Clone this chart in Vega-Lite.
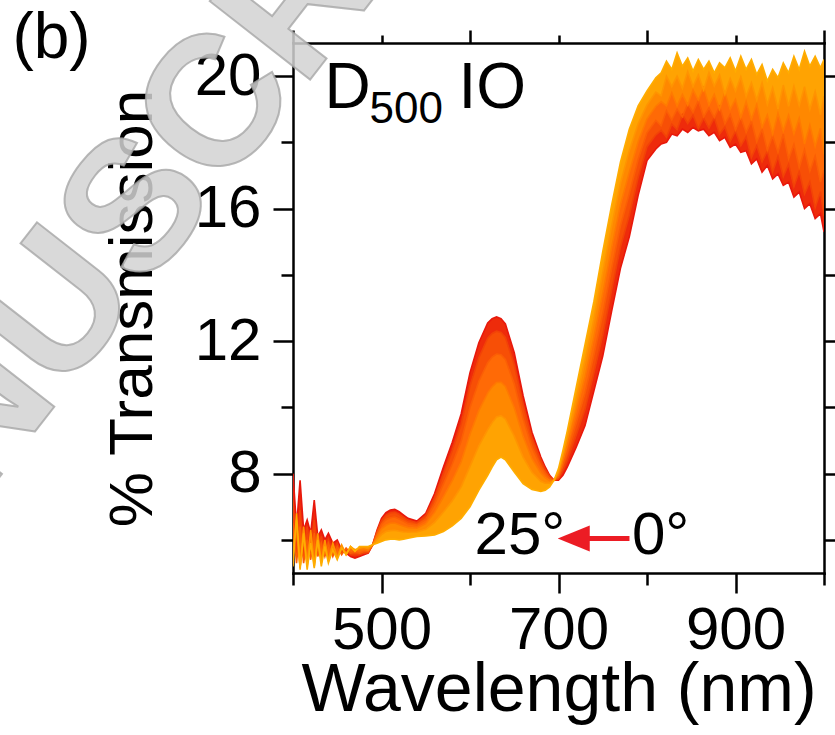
{
"$schema": "https://vega.github.io/schema/vega-lite/v6.json",
"width": 531, "height": 530,
"autosize": {"type": "none"},
"padding": {"left": 293, "top": 43, "right": 11, "bottom": 162},
"background": "white",
"datasets": {
"spectra": [
{"a":0,"w":400,"t":8.0},{"a":0,"w":404,"t":6.4},{"a":0,"w":408,"t":7.8},{"a":0,"w":412,"t":6.3},{"a":0,"w":416,"t":6.6},{"a":0,"w":420,"t":6.2},{"a":0,"w":424,"t":7.2},{"a":0,"w":428,"t":6.1},{"a":0,"w":432,"t":6.3},{"a":0,"w":436,"t":6.0},{"a":0,"w":440,"t":6.2},{"a":0,"w":445,"t":5.9},{"a":0,"w":450,"t":6.0},{"a":0,"w":455,"t":5.7},{"a":0,"w":460,"t":5.6},{"a":0,"w":465,"t":5.5},{"a":0,"w":470,"t":5.45},{"a":0,"w":475,"t":5.5},{"a":0,"w":480,"t":5.55},
{"a":0,"w":485,"t":5.6},{"a":0,"w":490,"t":5.85},{"a":0,"w":495,"t":6.3},{"a":0,"w":500,"t":6.65},{"a":0,"w":505,"t":6.82},{"a":0,"w":510,"t":6.9},{"a":0,"w":515,"t":6.92},{"a":0,"w":520,"t":6.85},{"a":0,"w":525,"t":6.75},{"a":0,"w":530,"t":6.65},{"a":0,"w":540,"t":6.57},{"a":0,"w":550,"t":6.8},{"a":0,"w":560,"t":7.4},{"a":0,"w":570,"t":8.2},{"a":0,"w":580,"t":8.95},{"a":0,"w":590,"t":9.8},{"a":0,"w":600,"t":11.05},{"a":0,"w":610,"t":11.95},{"a":0,"w":620,"t":12.55},{"a":0,"w":625,"t":12.68},{"a":0,"w":630,"t":12.73},{"a":0,"w":635,"t":12.68},{"a":0,"w":640,"t":12.52},{"a":0,"w":650,"t":11.65},{"a":0,"w":660,"t":10.35},{"a":0,"w":670,"t":9.25},{"a":0,"w":680,"t":8.5},{"a":0,"w":685,"t":8.2},{"a":0,"w":690,"t":7.95},{"a":0,"w":695,"t":7.8},{"a":0,"w":700,"t":7.8},
{"a":0,"w":705,"t":7.95},{"a":0,"w":710,"t":8.2},{"a":0,"w":720,"t":8.8},{"a":0,"w":730,"t":9.45},{"a":0,"w":740,"t":10.5},{"a":0,"w":750,"t":11.55},{"a":0,"w":760,"t":12.9},{"a":0,"w":770,"t":14.2},{"a":0,"w":780,"t":15.15},{"a":0,"w":790,"t":16.4},{"a":0,"w":800,"t":17.45},{"a":0,"w":810,"t":17.8},
{"a":0,"w":816,"t":17.95},{"a":0,"w":822,"t":18.0},{"a":0,"w":828,"t":18.25},{"a":0,"w":834,"t":18.2},{"a":0,"w":840,"t":18.4},{"a":0,"w":846,"t":18.3},{"a":0,"w":852,"t":18.45},{"a":0,"w":858,"t":18.35},{"a":0,"w":864,"t":18.4},{"a":0,"w":870,"t":18.2},{"a":0,"w":876,"t":18.3},{"a":0,"w":882,"t":18.05},{"a":0,"w":888,"t":18.15},{"a":0,"w":894,"t":17.85},{"a":0,"w":900,"t":17.95},{"a":0,"w":906,"t":17.7},{"a":0,"w":912,"t":17.75},{"a":0,"w":918,"t":17.35},{"a":0,"w":924,"t":17.5},{"a":0,"w":930,"t":17.1},{"a":0,"w":936,"t":17.3},{"a":0,"w":942,"t":16.9},{"a":0,"w":948,"t":17.05},{"a":0,"w":954,"t":16.7},{"a":0,"w":960,"t":16.8},{"a":0,"w":966,"t":16.35},{"a":0,"w":972,"t":16.5},{"a":0,"w":978,"t":16.0},{"a":0,"w":984,"t":16.15},{"a":0,"w":990,"t":15.7},{"a":0,"w":996,"t":15.85},{"a":0,"w":1000,"t":15.3},

{"a":5,"w":400,"t":7.2},{"a":5,"w":404,"t":5.6},{"a":5,"w":408,"t":6.9},{"a":5,"w":412,"t":5.5},{"a":5,"w":416,"t":6.4},{"a":5,"w":420,"t":5.6},{"a":5,"w":424,"t":6.6},{"a":5,"w":428,"t":5.7},{"a":5,"w":432,"t":6.1},{"a":5,"w":436,"t":5.6},{"a":5,"w":440,"t":6.0},{"a":5,"w":445,"t":5.6},{"a":5,"w":450,"t":5.9},{"a":5,"w":455,"t":5.6},{"a":5,"w":460,"t":5.7},{"a":5,"w":465,"t":5.55},{"a":5,"w":470,"t":5.55},{"a":5,"w":475,"t":5.55},{"a":5,"w":480,"t":5.6},
{"a":5,"w":485,"t":5.62},{"a":5,"w":490,"t":5.85},{"a":5,"w":495,"t":6.26},{"a":5,"w":500,"t":6.58},{"a":5,"w":505,"t":6.74},{"a":5,"w":510,"t":6.81},{"a":5,"w":515,"t":6.83},{"a":5,"w":520,"t":6.77},{"a":5,"w":525,"t":6.68},{"a":5,"w":530,"t":6.59},{"a":5,"w":540,"t":6.52},{"a":5,"w":550,"t":6.73},{"a":5,"w":560,"t":7.28},{"a":5,"w":570,"t":8.0},{"a":5,"w":580,"t":8.7},{"a":5,"w":590,"t":9.49},{"a":5,"w":600,"t":10.65},{"a":5,"w":610,"t":11.5},{"a":5,"w":620,"t":12.09},{"a":5,"w":625,"t":12.23},{"a":5,"w":630,"t":12.3},{"a":5,"w":635,"t":12.26},{"a":5,"w":640,"t":12.11},{"a":5,"w":650,"t":11.29},{"a":5,"w":660,"t":10.09},{"a":5,"w":670,"t":9.08},{"a":5,"w":680,"t":8.4},{"a":5,"w":685,"t":8.13},{"a":5,"w":690,"t":7.92},{"a":5,"w":695,"t":7.8},{"a":5,"w":700,"t":7.84},
{"a":5,"w":705,"t":8.1},{"a":5,"w":710,"t":8.42},{"a":5,"w":720,"t":9.16},{"a":5,"w":730,"t":9.94},{"a":5,"w":740,"t":11.04},{"a":5,"w":750,"t":12.18},{"a":5,"w":760,"t":13.54},{"a":5,"w":770,"t":14.84},{"a":5,"w":780,"t":15.8},{"a":5,"w":790,"t":16.94},{"a":5,"w":800,"t":17.87},{"a":5,"w":810,"t":18.23},
{"a":5,"w":816,"t":18.36},{"a":5,"w":822,"t":18.16},{"a":5,"w":828,"t":18.55},{"a":5,"w":834,"t":18.39},{"a":5,"w":840,"t":18.83},{"a":5,"w":846,"t":18.57},{"a":5,"w":852,"t":18.82},{"a":5,"w":858,"t":18.42},{"a":5,"w":864,"t":18.73},{"a":5,"w":870,"t":18.43},{"a":5,"w":876,"t":18.74},{"a":5,"w":882,"t":18.25},{"a":5,"w":888,"t":18.46},{"a":5,"w":894,"t":18.03},{"a":5,"w":900,"t":18.34},{"a":5,"w":906,"t":17.9},{"a":5,"w":912,"t":18.17},{"a":5,"w":918,"t":17.54},{"a":5,"w":924,"t":17.9},{"a":5,"w":930,"t":17.41},{"a":5,"w":936,"t":17.74},{"a":5,"w":942,"t":17.11},{"a":5,"w":948,"t":17.58},{"a":5,"w":954,"t":16.97},{"a":5,"w":960,"t":17.34},{"a":5,"w":966,"t":16.66},{"a":5,"w":972,"t":17.12},{"a":5,"w":978,"t":16.44},{"a":5,"w":984,"t":16.81},{"a":5,"w":990,"t":16.03},{"a":5,"w":996,"t":16.51},{"a":5,"w":1000,"t":15.78},

{"a":10,"w":400,"t":6.5},{"a":10,"w":404,"t":5.3},{"a":10,"w":408,"t":6.4},{"a":10,"w":412,"t":5.3},{"a":10,"w":416,"t":6.0},{"a":10,"w":420,"t":5.4},{"a":10,"w":424,"t":6.2},{"a":10,"w":428,"t":5.5},{"a":10,"w":432,"t":5.9},{"a":10,"w":436,"t":5.5},{"a":10,"w":440,"t":5.9},{"a":10,"w":445,"t":5.5},{"a":10,"w":450,"t":5.8},{"a":10,"w":455,"t":5.55},{"a":10,"w":460,"t":5.75},{"a":10,"w":465,"t":5.6},{"a":10,"w":470,"t":5.65},{"a":10,"w":475,"t":5.6},{"a":10,"w":480,"t":5.65},
{"a":10,"w":485,"t":5.65},{"a":10,"w":490,"t":5.85},{"a":10,"w":495,"t":6.2},{"a":10,"w":500,"t":6.47},{"a":10,"w":505,"t":6.61},{"a":10,"w":510,"t":6.67},{"a":10,"w":515,"t":6.69},{"a":10,"w":520,"t":6.63},{"a":10,"w":525,"t":6.56},{"a":10,"w":530,"t":6.49},{"a":10,"w":540,"t":6.45},{"a":10,"w":550,"t":6.62},{"a":10,"w":560,"t":7.08},{"a":10,"w":570,"t":7.69},{"a":10,"w":580,"t":8.29},{"a":10,"w":590,"t":8.98},{"a":10,"w":600,"t":10.0},{"a":10,"w":610,"t":10.79},{"a":10,"w":620,"t":11.35},{"a":10,"w":625,"t":11.52},{"a":10,"w":630,"t":11.61},{"a":10,"w":635,"t":11.59},{"a":10,"w":640,"t":11.45},{"a":10,"w":650,"t":10.71},{"a":10,"w":660,"t":9.66},{"a":10,"w":670,"t":8.8},{"a":10,"w":680,"t":8.23},{"a":10,"w":685,"t":8.02},{"a":10,"w":690,"t":7.86},{"a":10,"w":695,"t":7.8},{"a":10,"w":700,"t":7.89},
{"a":10,"w":705,"t":8.25},{"a":10,"w":710,"t":8.64},{"a":10,"w":720,"t":9.52},{"a":10,"w":730,"t":10.43},{"a":10,"w":740,"t":11.58},{"a":10,"w":750,"t":12.81},{"a":10,"w":760,"t":14.18},{"a":10,"w":770,"t":15.48},{"a":10,"w":780,"t":16.45},{"a":10,"w":790,"t":17.48},{"a":10,"w":800,"t":18.29},{"a":10,"w":810,"t":18.66},
{"a":10,"w":816,"t":18.5},{"a":10,"w":822,"t":18.96},{"a":10,"w":828,"t":18.68},{"a":10,"w":834,"t":19.0},{"a":10,"w":840,"t":18.77},{"a":10,"w":846,"t":19.16},{"a":10,"w":852,"t":18.91},{"a":10,"w":858,"t":19.26},{"a":10,"w":864,"t":18.77},{"a":10,"w":870,"t":19.04},{"a":10,"w":876,"t":18.75},{"a":10,"w":882,"t":19.08},{"a":10,"w":888,"t":18.56},{"a":10,"w":894,"t":18.84},{"a":10,"w":900,"t":18.37},{"a":10,"w":906,"t":18.75},{"a":10,"w":912,"t":18.3},{"a":10,"w":918,"t":18.64},{"a":10,"w":924,"t":18.02},{"a":10,"w":930,"t":18.4},{"a":10,"w":936,"t":17.76},{"a":10,"w":942,"t":18.2},{"a":10,"w":948,"t":17.7},{"a":10,"w":954,"t":18.25},{"a":10,"w":960,"t":17.5},{"a":10,"w":966,"t":17.94},{"a":10,"w":972,"t":17.24},{"a":10,"w":978,"t":17.78},{"a":10,"w":984,"t":17.13},{"a":10,"w":990,"t":17.59},{"a":10,"w":996,"t":16.8},{"a":10,"w":1000,"t":17.16},

{"a":15,"w":400,"t":5.9},{"a":15,"w":404,"t":6.3},{"a":15,"w":408,"t":5.2},{"a":15,"w":412,"t":6.0},{"a":15,"w":416,"t":5.3},{"a":15,"w":420,"t":6.1},{"a":15,"w":424,"t":5.3},{"a":15,"w":428,"t":5.9},{"a":15,"w":432,"t":5.4},{"a":15,"w":436,"t":5.9},{"a":15,"w":440,"t":5.4},{"a":15,"w":445,"t":5.85},{"a":15,"w":450,"t":5.5},{"a":15,"w":455,"t":5.8},{"a":15,"w":460,"t":5.6},{"a":15,"w":465,"t":5.75},{"a":15,"w":470,"t":5.7},{"a":15,"w":475,"t":5.7},{"a":15,"w":480,"t":5.72},
{"a":15,"w":485,"t":5.69},{"a":15,"w":490,"t":5.85},{"a":15,"w":495,"t":6.12},{"a":15,"w":500,"t":6.33},{"a":15,"w":505,"t":6.44},{"a":15,"w":510,"t":6.5},{"a":15,"w":515,"t":6.51},{"a":15,"w":520,"t":6.46},{"a":15,"w":525,"t":6.41},{"a":15,"w":530,"t":6.37},{"a":15,"w":540,"t":6.35},{"a":15,"w":550,"t":6.49},{"a":15,"w":560,"t":6.83},{"a":15,"w":570,"t":7.3},{"a":15,"w":580,"t":7.79},{"a":15,"w":590,"t":8.35},{"a":15,"w":600,"t":9.19},{"a":15,"w":610,"t":9.9},{"a":15,"w":620,"t":10.43},{"a":15,"w":625,"t":10.62},{"a":15,"w":630,"t":10.75},{"a":15,"w":635,"t":10.76},{"a":15,"w":640,"t":10.63},{"a":15,"w":650,"t":9.99},{"a":15,"w":660,"t":9.13},{"a":15,"w":670,"t":8.45},{"a":15,"w":680,"t":8.02},{"a":15,"w":685,"t":7.88},{"a":15,"w":690,"t":7.79},{"a":15,"w":695,"t":7.8},{"a":15,"w":700,"t":7.96},
{"a":15,"w":705,"t":8.4},{"a":15,"w":710,"t":8.86},{"a":15,"w":720,"t":9.88},{"a":15,"w":730,"t":10.92},{"a":15,"w":740,"t":12.12},{"a":15,"w":750,"t":13.44},{"a":15,"w":760,"t":14.82},{"a":15,"w":770,"t":16.12},{"a":15,"w":780,"t":17.1},{"a":15,"w":790,"t":18.02},{"a":15,"w":800,"t":18.71},{"a":15,"w":810,"t":19.09},
{"a":15,"w":816,"t":19.23},{"a":15,"w":822,"t":19.1},{"a":15,"w":828,"t":19.5},{"a":15,"w":834,"t":19.1},{"a":15,"w":840,"t":19.45},{"a":15,"w":846,"t":19.13},{"a":15,"w":852,"t":19.58},{"a":15,"w":858,"t":19.28},{"a":15,"w":864,"t":19.65},{"a":15,"w":870,"t":19.13},{"a":15,"w":876,"t":19.45},{"a":15,"w":882,"t":19.0},{"a":15,"w":888,"t":19.5},{"a":15,"w":894,"t":19.0},{"a":15,"w":900,"t":19.3},{"a":15,"w":906,"t":18.75},{"a":15,"w":912,"t":19.23},{"a":15,"w":918,"t":18.7},{"a":15,"w":924,"t":19.15},{"a":15,"w":930,"t":18.45},{"a":15,"w":936,"t":18.83},{"a":15,"w":942,"t":18.25},{"a":15,"w":948,"t":18.88},{"a":15,"w":954,"t":18.35},{"a":15,"w":960,"t":18.83},{"a":15,"w":966,"t":18.25},{"a":15,"w":972,"t":18.73},{"a":15,"w":978,"t":17.95},{"a":15,"w":984,"t":18.53},{"a":15,"w":990,"t":17.88},{"a":15,"w":996,"t":18.43},{"a":15,"w":1000,"t":17.63},

{"a":20,"w":400,"t":5.5},{"a":20,"w":404,"t":6.6},{"a":20,"w":408,"t":5.15},{"a":20,"w":412,"t":6.4},{"a":20,"w":416,"t":5.2},{"a":20,"w":420,"t":6.3},{"a":20,"w":424,"t":5.2},{"a":20,"w":428,"t":6.2},{"a":20,"w":432,"t":5.3},{"a":20,"w":436,"t":6.0},{"a":20,"w":440,"t":5.35},{"a":20,"w":445,"t":5.9},{"a":20,"w":450,"t":5.45},{"a":20,"w":455,"t":5.85},{"a":20,"w":460,"t":5.55},{"a":20,"w":465,"t":5.8},{"a":20,"w":470,"t":5.7},{"a":20,"w":475,"t":5.75},{"a":20,"w":480,"t":5.78},
{"a":20,"w":485,"t":5.74},{"a":20,"w":490,"t":5.85},{"a":20,"w":495,"t":6.02},{"a":20,"w":500,"t":6.16},{"a":20,"w":505,"t":6.25},{"a":20,"w":510,"t":6.28},{"a":20,"w":515,"t":6.29},{"a":20,"w":520,"t":6.26},{"a":20,"w":525,"t":6.24},{"a":20,"w":530,"t":6.23},{"a":20,"w":540,"t":6.24},{"a":20,"w":550,"t":6.32},{"a":20,"w":560,"t":6.53},{"a":20,"w":570,"t":6.84},{"a":20,"w":580,"t":7.18},{"a":20,"w":590,"t":7.6},{"a":20,"w":600,"t":8.22},{"a":20,"w":610,"t":8.84},{"a":20,"w":620,"t":9.33},{"a":20,"w":625,"t":9.54},{"a":20,"w":630,"t":9.71},{"a":20,"w":635,"t":9.75},{"a":20,"w":640,"t":9.65},{"a":20,"w":650,"t":9.13},{"a":20,"w":660,"t":8.5},{"a":20,"w":670,"t":8.04},{"a":20,"w":680,"t":7.77},{"a":20,"w":685,"t":7.71},{"a":20,"w":690,"t":7.71},{"a":20,"w":695,"t":7.8},{"a":20,"w":700,"t":8.05},
{"a":20,"w":705,"t":8.55},{"a":20,"w":710,"t":9.08},{"a":20,"w":720,"t":10.24},{"a":20,"w":730,"t":11.41},{"a":20,"w":740,"t":12.66},{"a":20,"w":750,"t":14.07},{"a":20,"w":760,"t":15.46},{"a":20,"w":770,"t":16.76},{"a":20,"w":780,"t":17.75},{"a":20,"w":790,"t":18.56},{"a":20,"w":800,"t":19.13},{"a":20,"w":810,"t":19.52},
{"a":20,"w":816,"t":19.41},{"a":20,"w":822,"t":20.0},{"a":20,"w":828,"t":19.68},{"a":20,"w":834,"t":20.0},{"a":20,"w":840,"t":19.63},{"a":20,"w":846,"t":20.14},{"a":20,"w":852,"t":19.69},{"a":20,"w":858,"t":20.04},{"a":20,"w":864,"t":19.58},{"a":20,"w":870,"t":20.11},{"a":20,"w":876,"t":19.7},{"a":20,"w":882,"t":20.03},{"a":20,"w":888,"t":19.45},{"a":20,"w":894,"t":19.93},{"a":20,"w":900,"t":19.55},{"a":20,"w":906,"t":19.98},{"a":20,"w":912,"t":19.39},{"a":20,"w":918,"t":19.8},{"a":20,"w":924,"t":19.28},{"a":20,"w":930,"t":19.8},{"a":20,"w":936,"t":19.14},{"a":20,"w":942,"t":19.65},{"a":20,"w":948,"t":19.01},{"a":20,"w":954,"t":19.73},{"a":20,"w":960,"t":19.09},{"a":20,"w":966,"t":19.7},{"a":20,"w":972,"t":19.11},{"a":20,"w":978,"t":19.68},{"a":20,"w":984,"t":18.99},{"a":20,"w":990,"t":19.54},{"a":20,"w":996,"t":18.84},{"a":20,"w":1000,"t":19.39},

{"a":25,"w":400,"t":5.2},{"a":25,"w":404,"t":6.8},{"a":25,"w":408,"t":5.1},{"a":25,"w":412,"t":6.2},{"a":25,"w":416,"t":5.1},{"a":25,"w":420,"t":5.9},{"a":25,"w":424,"t":5.15},{"a":25,"w":428,"t":6.0},{"a":25,"w":432,"t":5.2},{"a":25,"w":436,"t":5.8},{"a":25,"w":440,"t":5.3},{"a":25,"w":445,"t":5.7},{"a":25,"w":450,"t":5.4},{"a":25,"w":455,"t":5.75},{"a":25,"w":460,"t":5.55},{"a":25,"w":465,"t":5.8},{"a":25,"w":470,"t":5.65},{"a":25,"w":475,"t":5.8},{"a":25,"w":480,"t":5.8},
{"a":25,"w":485,"t":5.8},{"a":25,"w":490,"t":5.85},{"a":25,"w":495,"t":5.9},{"a":25,"w":500,"t":5.95},{"a":25,"w":505,"t":6.0},{"a":25,"w":510,"t":6.02},{"a":25,"w":515,"t":6.02},{"a":25,"w":520,"t":6.0},{"a":25,"w":525,"t":6.02},{"a":25,"w":530,"t":6.05},{"a":25,"w":540,"t":6.1},{"a":25,"w":550,"t":6.12},{"a":25,"w":560,"t":6.15},{"a":25,"w":570,"t":6.25},{"a":25,"w":580,"t":6.42},{"a":25,"w":590,"t":6.65},{"a":25,"w":600,"t":7.0},{"a":25,"w":610,"t":7.5},{"a":25,"w":620,"t":7.95},{"a":25,"w":625,"t":8.2},{"a":25,"w":630,"t":8.42},{"a":25,"w":635,"t":8.5},{"a":25,"w":640,"t":8.42},{"a":25,"w":650,"t":8.05},{"a":25,"w":660,"t":7.7},{"a":25,"w":670,"t":7.52},{"a":25,"w":680,"t":7.46},{"a":25,"w":685,"t":7.5},{"a":25,"w":690,"t":7.6},{"a":25,"w":695,"t":7.8},{"a":25,"w":700,"t":8.15},
{"a":25,"w":705,"t":8.7},{"a":25,"w":710,"t":9.3},{"a":25,"w":720,"t":10.6},{"a":25,"w":730,"t":11.9},{"a":25,"w":740,"t":13.2},{"a":25,"w":750,"t":14.7},{"a":25,"w":760,"t":16.1},{"a":25,"w":770,"t":17.4},{"a":25,"w":780,"t":18.4},{"a":25,"w":790,"t":19.1},{"a":25,"w":800,"t":19.55},{"a":25,"w":810,"t":19.95},
{"a":25,"w":816,"t":20.1},{"a":25,"w":822,"t":20.45},{"a":25,"w":828,"t":20.2},{"a":25,"w":834,"t":20.7},{"a":25,"w":840,"t":20.3},{"a":25,"w":846,"t":20.55},{"a":25,"w":852,"t":20.15},{"a":25,"w":858,"t":20.5},{"a":25,"w":864,"t":20.2},{"a":25,"w":870,"t":20.45},{"a":25,"w":876,"t":20.1},{"a":25,"w":882,"t":20.4},{"a":25,"w":888,"t":20.25},{"a":25,"w":894,"t":20.55},{"a":25,"w":900,"t":20.15},{"a":25,"w":906,"t":20.6},{"a":25,"w":912,"t":20.2},{"a":25,"w":918,"t":20.5},{"a":25,"w":924,"t":20.05},{"a":25,"w":930,"t":20.35},{"a":25,"w":936,"t":19.85},{"a":25,"w":942,"t":20.2},{"a":25,"w":948,"t":19.95},{"a":25,"w":954,"t":20.4},{"a":25,"w":960,"t":20.1},{"a":25,"w":966,"t":20.6},{"a":25,"w":972,"t":20.2},{"a":25,"w":978,"t":20.75},{"a":25,"w":984,"t":20.3},{"a":25,"w":990,"t":20.6},{"a":25,"w":996,"t":20.25},{"a":25,"w":1000,"t":20.5}
]
},
"layer": [
{
"data": {"values": [{"x": 225, "y": 16.0, "s": "MANUSCRIPT"}]},
"mark": {"type": "text", "angle": -52, "fontSize": 185, "fontWeight": "bold", "font": "Liberation Sans", "align": "center", "baseline": "middle", "fill": "#d2d2d2", "fillOpacity": 0.85, "stroke": "#a6a6a6", "strokeOpacity": 0.8, "strokeWidth": 2},
"encoding": {
"x": {"field": "x", "type": "quantitative", "scale": {"domain": [400, 1000], "nice": false, "zero": false}, "axis": null},
"y": {"field": "y", "type": "quantitative", "scale": {"domain": [5, 21], "nice": false, "zero": false}, "axis": null},
"text": {"field": "s"}
}
},
{
"data": {"name": "spectra"},
"transform": [
{"window": [{"op": "lag", "field": "t", "as": "t0"}], "groupby": ["w"], "sort": [{"field": "a", "order": "ascending"}]},
{"filter": "datum.t0 != null"}
],
"mark": {"type": "area", "clip": true},
"encoding": {
"x": {"field": "w", "type": "quantitative", "scale": {"domain": [400, 1000], "nice": false, "zero": false},
"axis": {"orient": "bottom", "values": [400, 500, 600, 700, 800, 900, 1000], "format": "d",
"tickSize": {"condition": {"test": "datum.value % 200 == 100", "value": 20}, "value": 12},
"labelExpr": "datum.value % 200 == 100 ? datum.label : ''",
"labelFontSize": 60, "labelPadding": 8, "labelOverlap": false, "labelFlush": false,
"title": "Wavelength (nm)", "titleFontSize": 68, "titlePadding": -4}},
"y": {"field": "t", "type": "quantitative", "scale": {"domain": [5, 21], "nice": false, "zero": false},
"axis": {"orient": "left", "values": [6, 8, 10, 12, 14, 16, 18, 20], "format": "d",
"tickSize": {"condition": {"test": "datum.value % 4 == 0", "value": 20}, "value": 12},
"labelExpr": "datum.value % 4 == 0 ? datum.label : ''",
"labelFontSize": 60, "labelPadding": 12, "labelOverlap": false, "labelFlush": false,
"title": "% Transmission", "titleFontSize": 62, "titlePadding": 30}},
"y2": {"field": "t0"},
"color": {"field": "a", "type": "quantitative", "scale": {"domain": [5, 15, 25], "range": ["#ee2b0b", "#ff6a06", "#ffa302"]}, "legend": null},
"detail": {"field": "a"}
}
},
{
"data": {"name": "spectra"},
"mark": {"type": "line", "clip": true, "strokeWidth": 1.6},
"encoding": {
"x": {"field": "w", "type": "quantitative", "scale": {"domain": [400, 1000], "nice": false, "zero": false},
"axis": {"orient": "top", "values": [400, 500, 600, 700, 800, 900, 1000],
"tickSize": {"condition": {"test": "datum.value % 200 == 0", "value": 13}, "value": 8},
"labels": false, "title": null}},
"y": {"field": "t", "type": "quantitative", "scale": {"domain": [5, 21], "nice": false, "zero": false},
"axis": {"orient": "right", "values": [6, 8, 10, 12, 14, 16, 18, 20], "tickSize": 12, "labels": false, "title": null}},
"color": {"field": "a", "type": "quantitative", "scale": {"domain": [0, 12.5, 25], "range": ["#e8180c", "#ff6a06", "#ffad00"]}, "legend": null},
"detail": {"field": "a"}
}
},
{
"data": {"values": [{"x": 435.6, "y": 19.05, "s": "D"}, {"x": 587, "y": 19.05, "s": "IO"}, {"x": 83, "y": 20.55, "s": "(b)"}]},
"mark": {"type": "text", "fontSize": 64, "font": "Liberation Sans", "align": "left", "baseline": "alphabetic", "fill": "#000000"},
"encoding": {
"x": {"field": "x", "type": "quantitative", "scale": {"domain": [400, 1000], "nice": false, "zero": false}, "axis": null},
"y": {"field": "y", "type": "quantitative", "scale": {"domain": [5, 21], "nice": false, "zero": false}, "axis": null},
"text": {"field": "s"}
}
},
{
"data": {"values": [{"x": 486.4, "y": 18.6, "s": "500"}]},
"mark": {"type": "text", "fontSize": 44, "font": "Liberation Sans", "align": "left", "baseline": "alphabetic", "fill": "#000000"},
"encoding": {
"x": {"field": "x", "type": "quantitative", "scale": {"domain": [400, 1000], "nice": false, "zero": false}, "axis": null},
"y": {"field": "y", "type": "quantitative", "scale": {"domain": [5, 21], "nice": false, "zero": false}, "axis": null},
"text": {"field": "s"}
}
},
{
"data": {"values": [{"x": 605.1, "y": 5.57, "s": "25°"}, {"x": 783, "y": 5.57, "s": "0°"}]},
"mark": {"type": "text", "fontSize": 60, "font": "Liberation Sans", "align": "left", "baseline": "alphabetic", "fill": "#000000"},
"encoding": {
"x": {"field": "x", "type": "quantitative", "scale": {"domain": [400, 1000], "nice": false, "zero": false}, "axis": null},
"y": {"field": "y", "type": "quantitative", "scale": {"domain": [5, 21], "nice": false, "zero": false}, "axis": null},
"text": {"field": "s"}
}
},
{
"data": {"values": [{"x": 733, "x2": 780.2, "y": 6.04}]},
"mark": {"type": "rule", "color": "#ec1c24", "strokeWidth": 5},
"encoding": {
"x": {"field": "x", "type": "quantitative", "scale": {"domain": [400, 1000], "nice": false, "zero": false}, "axis": null},
"x2": {"field": "x2"},
"y": {"field": "y", "type": "quantitative", "scale": {"domain": [5, 21], "nice": false, "zero": false}, "axis": null}
}
},
{
"data": {"values": [{"x": 717.2, "y": 6.04}]},
"mark": {"type": "point", "shape": "M -1 0 L 1 -0.8125 L 1 0.8125 Z", "size": 1024, "filled": true, "color": "#ec1c24", "opacity": 1},
"encoding": {
"x": {"field": "x", "type": "quantitative", "scale": {"domain": [400, 1000], "nice": false, "zero": false}, "axis": null},
"y": {"field": "y", "type": "quantitative", "scale": {"domain": [5, 21], "nice": false, "zero": false}, "axis": null}
}
}
],
"resolve": {"axis": {"x": "independent", "y": "independent"}, "scale": {"color": "independent"}},
"config": {
"view": {"stroke": null},
"font": "Liberation Sans",
"axis": {"domainColor": "black", "domainWidth": 2.5, "domainCap": "square", "tickColor": "black", "tickWidth": 2.5,
"labelColor": "black", "titleColor": "black", "labelFont": "Liberation Sans", "titleFont": "Liberation Sans",
"titleFontWeight": "normal", "grid": false, "zindex": 1}
}
}
